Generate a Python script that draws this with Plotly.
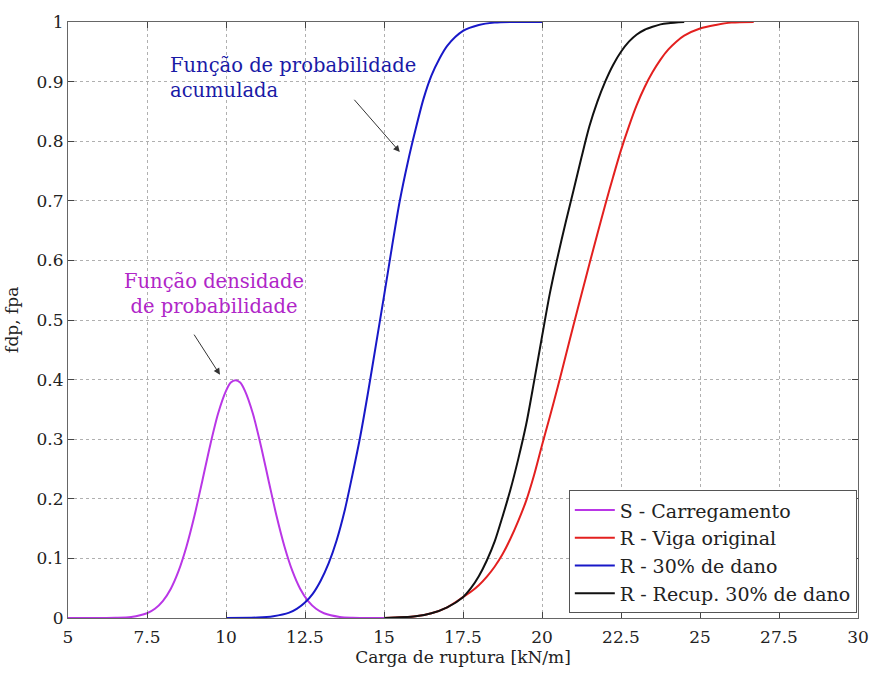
import plotly.graph_objects as go

# ---- data ----
s_x = [5, 6, 6.5, 7, 7.5, 7.75, 8, 8.25, 8.5, 8.75, 9, 9.25, 9.5, 9.75, 10, 10.15, 10.3, 10.45, 10.6,
       10.85, 11.1, 11.35, 11.6, 11.85, 12.1, 12.35, 12.6, 12.85, 13.1, 13.6, 14, 15]
s_y = [0, 0, 0.0003, 0.0017, 0.0079, 0.0154, 0.0283, 0.0488, 0.079, 0.120, 0.171, 0.230, 0.290, 0.343,
       0.381, 0.395, 0.399, 0.395, 0.381, 0.343, 0.290, 0.230, 0.171, 0.120, 0.079, 0.0488, 0.0283,
       0.0154, 0.0079, 0.0017, 0.0004, 0]

blue_x = [10, 11, 11.5, 12, 12.25, 12.5, 12.75, 13, 13.25, 13.5, 13.75, 14, 14.25, 14.5, 14.75, 15,
          15.25, 15.5, 15.75, 16, 16.25, 16.5, 16.75, 17, 17.5, 18, 18.5, 19, 20]
blue_y = [0, 0.0008, 0.003, 0.009, 0.0158, 0.026, 0.041, 0.063, 0.092, 0.13, 0.179, 0.24, 0.305, 0.38,
          0.46, 0.54, 0.622, 0.70, 0.764, 0.82, 0.871, 0.91, 0.938, 0.96, 0.985, 0.995, 0.999, 1.0, 1.0]

black_x = [15, 16, 16.5, 17, 17.5, 17.75, 18, 18.25, 18.5, 18.75, 19, 19.25, 19.5, 19.75, 20, 20.25,
           20.5, 20.75, 21, 21.25, 21.5, 21.75, 22, 22.25, 22.5, 22.75, 23, 23.25, 23.5, 23.75, 24, 24.5]
black_y = [0, 0.003, 0.008, 0.018, 0.035, 0.05, 0.07, 0.096, 0.128, 0.170, 0.215, 0.267, 0.325, 0.397,
           0.472, 0.545, 0.607, 0.664, 0.718, 0.773, 0.825, 0.866, 0.90, 0.928, 0.950, 0.967, 0.979,
           0.987, 0.992, 0.996, 0.998, 1.0]

red_x = [15, 16, 16.5, 17, 17.5, 17.75, 18, 18.25, 18.5, 18.75, 19, 19.25, 19.5, 19.75, 20, 20.25, 20.5,
         20.75, 21, 21.25, 21.5, 21.75, 22, 22.25, 22.5, 22.75, 23, 23.25, 23.5, 23.75, 24, 24.25, 24.5,
         25, 25.5, 26, 26.7]
red_y = [0, 0.003, 0.008, 0.018, 0.035, 0.044, 0.055, 0.069, 0.086, 0.107, 0.133, 0.163, 0.197, 0.240,
         0.29, 0.338, 0.388, 0.44, 0.492, 0.543, 0.594, 0.644, 0.693, 0.74, 0.785, 0.825, 0.861, 0.891,
         0.916, 0.937, 0.954, 0.967, 0.977, 0.989, 0.995, 0.999, 1.0]

x_ticks = [5, 7.5, 10, 12.5, 15, 17.5, 20, 22.5, 25, 27.5, 30]
x_tick_text = ["5", "7.5", "10", "12.5", "15", "17.5", "20", "22.5", "25", "27.5", "30"]
y_ticks = [0, 0.1, 0.2, 0.3, 0.4, 0.5, 0.6, 0.7, 0.8, 0.9, 1]
y_tick_text = ["0", "0.1", "0.2", "0.3", "0.4", "0.5", "0.6", "0.7", "0.8", "0.9", "1"]

names = ["S - Carregamento", "R - Viga original", "R - 30% de dano", "R - Recup. 30% de dano"]
colors = ["#b936e6", "#e3201f", "#1818c8", "#111111"]

FONT = "DejaVu Serif"
TXT = "#222222"

fig = go.Figure()
series = [(s_x, s_y), (red_x, red_y), (blue_x, blue_y), (black_x, black_y)]
for (xs, ys), nm, c in zip(series, names, colors):
    fig.add_trace(go.Scatter(x=xs, y=ys, mode="lines", name=nm,
                             line=dict(color=c, width=2, shape="spline", smoothing=0.8)))

axis_common = dict(showline=True, linecolor="#666666", linewidth=1, mirror="ticks",
                   ticks="inside", ticklen=6, tickcolor="#444444",
                   showgrid=True, gridcolor="#b0b0b0", griddash="dot", gridwidth=1,
                   zeroline=False, automargin=False,
                   tickfont=dict(family=FONT, size=17, color=TXT))

fig.update_xaxes(range=[5, 30], tickvals=x_ticks, ticktext=x_tick_text, ticklabelstandoff=4,
                 title=dict(text="Carga de ruptura [kN/m]", font=dict(family=FONT, size=17, color=TXT), standoff=2),
                 **axis_common)
fig.update_yaxes(range=[0, 1], tickvals=y_ticks, ticktext=y_tick_text,
                 **axis_common)

fig.add_annotation(x=-0.071, y=0.5, xref="paper", yref="paper", xanchor="center", yanchor="middle",
                   text="fdp, fpa", textangle=-90, showarrow=False,
                   font=dict(family=FONT, size=17, color=TXT))

fig.add_annotation(x=8.16, y=0.95, xref="x", yref="y", xanchor="left", yanchor="top",
                   text="Função de probabilidade<br>acumulada", showarrow=False, align="left",
                   font=dict(family=FONT, size=19.5, color="#1a1aa6"))
fig.add_annotation(x=9.62, y=0.588, xref="x", yref="y", xanchor="center", yanchor="top",
                   text="Função densidade<br>de probabilidade", showarrow=False, align="center",
                   font=dict(family=FONT, size=19.5, color="#b026c8"))

# arrows
fig.add_annotation(x=15.5, y=0.782, ax=14.02, ay=0.872, xref="x", yref="y", axref="x", ayref="y",
                   text="", showarrow=True, arrowhead=2, arrowsize=1.3, arrowwidth=1, arrowcolor="#333333")
fig.add_annotation(x=9.81, y=0.408, ax=8.96, ay=0.478, xref="x", yref="y", axref="x", ayref="y",
                   text="", showarrow=True, arrowhead=2, arrowsize=1.3, arrowwidth=1, arrowcolor="#333333")

fig.update_layout(
    width=872, height=673,
    margin=dict(l=68, r=14, t=22, b=55),
    paper_bgcolor="white", plot_bgcolor="white",
    font=dict(family=FONT, size=17, color=TXT),
    legend=dict(x=0.9985, y=0.008, xanchor="right", yanchor="bottom",
                bgcolor="white", bordercolor="#555555", borderwidth=1,
                font=dict(family=FONT, size=19, color=TXT),
                tracegroupgap=0, itemwidth=40),
)

fig.write_html("out.html", config={"displayModeBar": False},
               post_script="document.body.style.margin='0';document.body.style.overflow='hidden';")
